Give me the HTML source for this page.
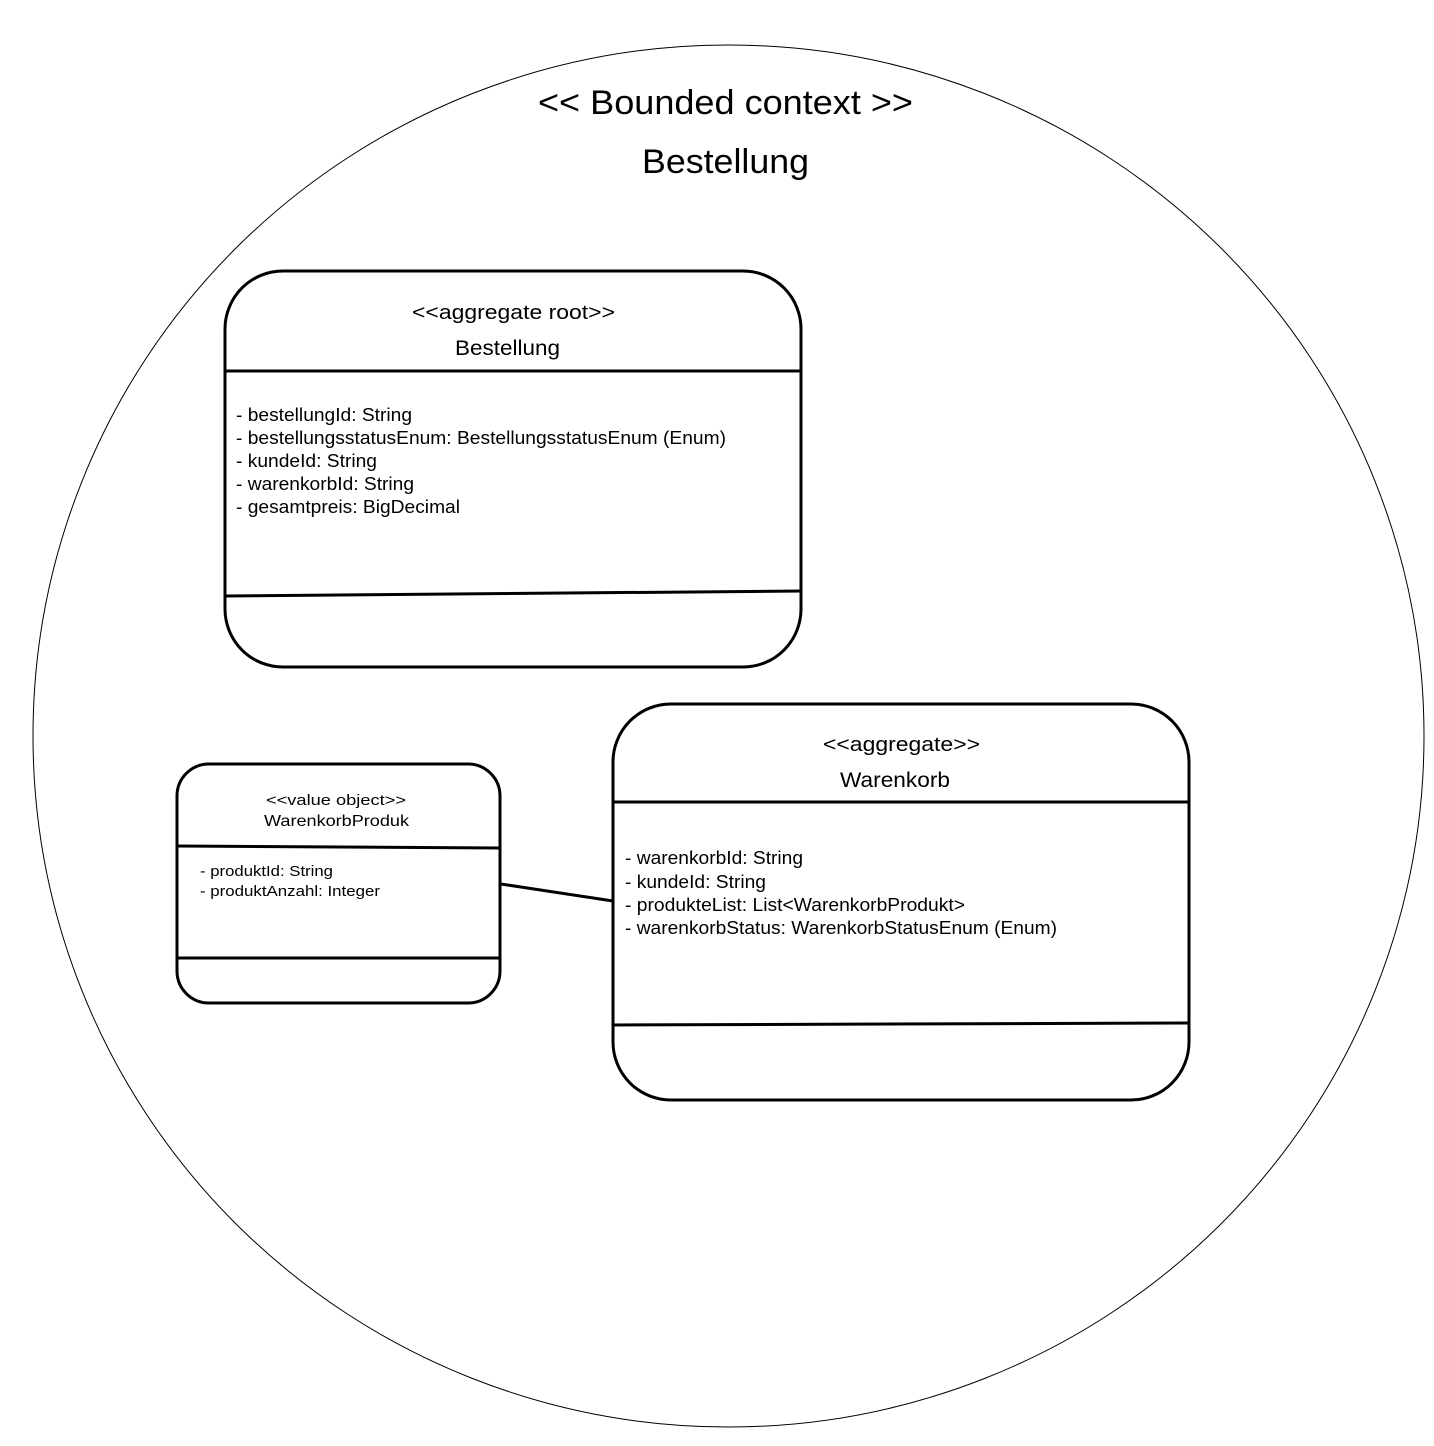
<!DOCTYPE html>
<html><head><meta charset="utf-8"><style>html,body{margin:0;padding:0;background:#fff}svg{display:block}</style></head>
<body>
<svg width="1434" height="1446" viewBox="0 0 1434 1446" xmlns="http://www.w3.org/2000/svg" font-family="Liberation Sans, Arial, sans-serif" fill="none">
<ellipse cx="728.5" cy="736" rx="695.5" ry="691" stroke="#000" stroke-width="1"/>
<g fill="#000" lengthAdjust="spacingAndGlyphs">
<text x="538" y="114" font-size="34" textLength="375" lengthAdjust="spacingAndGlyphs">&lt;&lt; Bounded context &gt;&gt;</text>
<text x="642" y="173" font-size="34" textLength="167" lengthAdjust="spacingAndGlyphs">Bestellung</text>

<text x="412" y="319" font-size="20" textLength="203" lengthAdjust="spacingAndGlyphs">&lt;&lt;aggregate root&gt;&gt;</text>
<text x="455" y="355" font-size="21" textLength="105" lengthAdjust="spacingAndGlyphs">Bestellung</text>
<text x="236" y="421" font-size="18" textLength="176" lengthAdjust="spacingAndGlyphs">- bestellungId: String</text>
<text x="236" y="444" font-size="18" textLength="490" lengthAdjust="spacingAndGlyphs">- bestellungsstatusEnum: BestellungsstatusEnum (Enum)</text>
<text x="236" y="467" font-size="18" textLength="141" lengthAdjust="spacingAndGlyphs">- kundeId: String</text>
<text x="236" y="490" font-size="18" textLength="178" lengthAdjust="spacingAndGlyphs">- warenkorbId: String</text>
<text x="236" y="513" font-size="18" textLength="224" lengthAdjust="spacingAndGlyphs">- gesamtpreis: BigDecimal</text>

<text x="823" y="751" font-size="20" textLength="157" lengthAdjust="spacingAndGlyphs">&lt;&lt;aggregate&gt;&gt;</text>
<text x="840" y="787" font-size="21" textLength="110" lengthAdjust="spacingAndGlyphs">Warenkorb</text>
<text x="625" y="864" font-size="18" textLength="178" lengthAdjust="spacingAndGlyphs">- warenkorbId: String</text>
<text x="625" y="888" font-size="18" textLength="141" lengthAdjust="spacingAndGlyphs">- kundeId: String</text>
<text x="625" y="911" font-size="18" textLength="340" lengthAdjust="spacingAndGlyphs">- produkteList: List&lt;WarenkorbProdukt&gt;</text>
<text x="625" y="934" font-size="18" textLength="432" lengthAdjust="spacingAndGlyphs">- warenkorbStatus: WarenkorbStatusEnum (Enum)</text>

<text x="266" y="805" font-size="15" textLength="140" lengthAdjust="spacingAndGlyphs">&lt;&lt;value object&gt;&gt;</text>
<text x="264" y="826" font-size="16" textLength="145" lengthAdjust="spacingAndGlyphs">WarenkorbProduk</text>
<text x="200" y="876" font-size="15" textLength="133" lengthAdjust="spacingAndGlyphs">- produktId: String</text>
<text x="200" y="896" font-size="15" textLength="180" lengthAdjust="spacingAndGlyphs">- produktAnzahl: Integer</text>
</g>

<rect x="225" y="271" width="576" height="396" rx="58" stroke="#000" stroke-width="3"/>
<line x1="225" y1="371" x2="801" y2="371" stroke="#000" stroke-width="3"/>
<line x1="225" y1="596" x2="801" y2="591" stroke="#000" stroke-width="3"/>

<rect x="613" y="704" width="576" height="396" rx="58" stroke="#000" stroke-width="3"/>
<line x1="613" y1="802" x2="1189" y2="802" stroke="#000" stroke-width="3"/>
<line x1="613" y1="1025" x2="1189" y2="1023" stroke="#000" stroke-width="3"/>

<rect x="177" y="764" width="323" height="239" rx="32" stroke="#000" stroke-width="3"/>
<line x1="177" y1="846" x2="500" y2="848" stroke="#000" stroke-width="3"/>
<line x1="177" y1="958" x2="500" y2="958" stroke="#000" stroke-width="3"/>

<line x1="501" y1="884" x2="613" y2="901" stroke="#000" stroke-width="3"/>
</svg>
</body></html>
